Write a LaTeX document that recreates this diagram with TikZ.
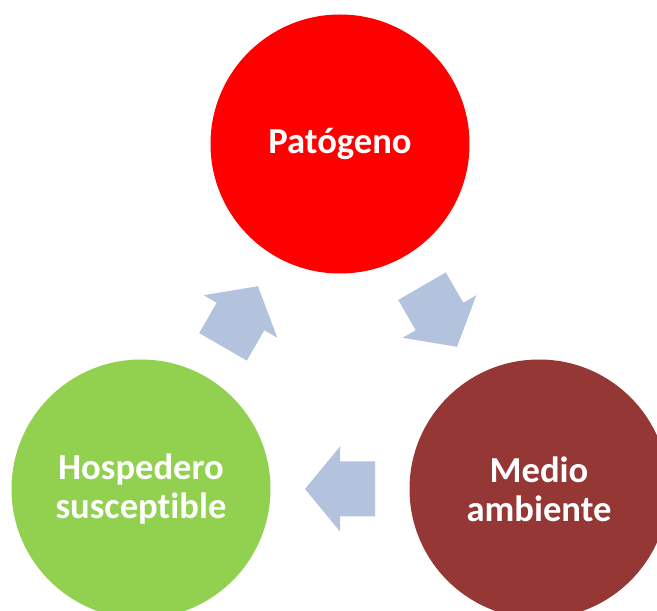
\documentclass[tikz,border=0pt]{standalone}
\usepackage{fontspec}
\setmainfont{Carlito}[Ligatures={NoCommon,NoContextual}]
\usetikzlibrary{calc}
\definecolor{pred}{HTML}{FF0000}
\definecolor{hgreen}{HTML}{92D050}
\definecolor{mbrown}{HTML}{953735}
\definecolor{arrowfill}{HTML}{B3C3DD}
\tikzset{
  bigcircle/.style={circle, minimum size=259pt, inner sep=0pt, text=white, align=center,
    font=\bfseries\fontsize{36.6}{39}\selectfont},
  blockarrow/.pic={\fill[arrowfill] (-35,-27.5) -- (0,-27.5) -- (0,-42.5) -- (35,0) -- (0,42.5) -- (0,27.5) -- (-35,27.5) -- cycle;}
}
\begin{document}
\begin{tikzpicture}[x=1pt,y=1pt]
\useasboundingbox (0,0) rectangle (657,611);
\clip (0,0) rectangle (657,611);
\fill[white] (0,0) rectangle (657,611);
\node[bigcircle, fill=pred] (p) at (340,467) {Patógeno};
\node[bigcircle, fill=hgreen] (h) at (141,122) {Hospedero\\susceptible};
\node[bigcircle, fill=mbrown] (m) at (539,122) {Medio\\ambiente};
\pic[rotate=60] at ($(h.center)!0.5!(p.center)$) {blockarrow};
\pic[rotate=-60] at ($(p.center)!0.5!(m.center)$) {blockarrow};
\pic[rotate=180] at ($(m.center)!0.5!(h.center)$) {blockarrow};
\end{tikzpicture}
\end{document}
